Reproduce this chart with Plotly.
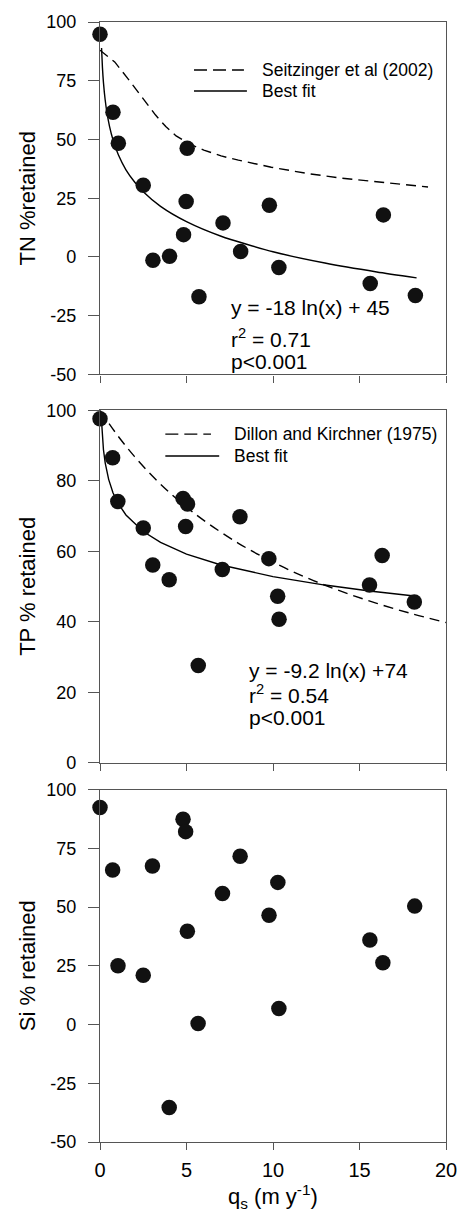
import plotly.graph_objects as go
from plotly.subplots import make_subplots

# ---------------- data ----------------
qs_tn = [0.0, 0.75, 1.06, 2.50, 3.06, 4.02, 5.04, 4.98, 4.83, 5.72, 7.11, 8.13, 9.79, 10.34, 15.62, 16.38, 18.23]
tn = [94.8, 61.6, 48.4, 30.5, -1.4, 0.3, 46.3, 23.6, 9.5, -16.9, 14.5, 2.3, 22.0, -4.5, -11.3, 17.9, -16.4]

qs_tp = [0.0, 0.73, 1.03, 2.50, 3.05, 4.00, 4.80, 5.06, 4.95, 5.68, 7.07, 8.09, 9.76, 10.27, 10.35, 15.58, 16.31, 18.17]
tp = [97.6, 86.5, 74.1, 66.6, 56.1, 51.9, 75.0, 73.4, 67.0, 27.6, 54.8, 69.8, 57.9, 47.2, 40.7, 50.4, 58.8, 45.6]

qs_si = [0.0, 4.80, 4.95, 0.73, 3.03, 8.10, 7.08, 10.28, 9.77, 18.19, 5.05, 1.04, 2.50, 15.60, 16.35, 10.34, 5.67, 4.00]
si = [92.4, 87.4, 82.1, 65.8, 67.5, 71.6, 55.8, 60.5, 46.5, 50.4, 39.7, 25.0, 21.0, 36.0, 26.3, 6.8, 0.4, -35.3]

# curves
seitz_x = [0, 0.85, 1.6, 2.55, 3.2, 3.8, 4.4, 5.2, 6.0, 7.0, 8.0, 9.9, 12, 14, 16, 18.96]
seitz_y = [88.0, 83.0, 76.0, 66.8, 60.5, 55.5, 51.5, 48.0, 45.5, 43.0, 41.2, 38.2, 35.5, 33.5, 31.9, 29.8]

tnfit_x = [0.09, 0.14, 0.2, 0.3, 0.4, 0.55, 0.75, 1.06, 1.5, 2.0, 2.5, 3.5, 5, 7, 10, 13, 16, 18.3]
tnfit_y = [88.9, 80.8, 74.2, 66.8, 61.5, 55.6, 49.9, 43.5, 37.1, 31.9, 27.7, 21.5, 15.0, 8.8, 2.2, -2.6, -6.4, -8.9]

dk_x = [0, 1, 2, 3, 4, 5, 6, 8, 10, 12, 14, 16, 18, 20]
dk_y = [100.0, 92.96, 86.84, 81.48, 76.74, 72.53, 68.75, 62.26, 56.90, 52.38, 48.53, 45.21, 42.31, 39.76]

tpfit_x = [0.074, 0.1, 0.15, 0.2, 0.3, 0.5, 0.75, 1.03, 1.5, 2.5, 3.5, 5, 7, 10, 13, 15.58, 18.17]
tpfit_y = [98.0, 95.2, 91.5, 88.8, 85.1, 80.4, 76.6, 73.7, 70.3, 65.6, 62.5, 59.2, 56.1, 52.8, 50.4, 48.7, 47.3]

x_ticks = [0, 5, 10, 15, 20]
tn_ticks = [-50, -25, 0, 25, 50, 75, 100]
tp_ticks = [0, 20, 40, 60, 80, 100]
si_ticks = [-50, -25, 0, 25, 50, 75, 100]

legend_top = ["Seitzinger et al (2002)", "Best fit"]
legend_mid = ["Dillon and Kirchner (1975)", "Best fit"]

FONT = "Liberation Sans, Arial, sans-serif"
AXC = "#555555"
MK = dict(size=15.5, color="#111111")
DASH = "10px,6px"

fig = make_subplots(rows=3, cols=1, shared_xaxes=False, vertical_spacing=0.03)

# ---- TN panel ----
fig.add_trace(go.Scatter(x=seitz_x, y=seitz_y, mode="lines", name=legend_top[0],
                         line=dict(color="black", width=1.4, dash=DASH),
                         showlegend=False), row=1, col=1)
fig.add_trace(go.Scatter(x=tnfit_x, y=tnfit_y, mode="lines", name=legend_top[1],
                         line=dict(color="black", width=1.4), showlegend=False,
                         line_shape="spline", line_smoothing=0.6), row=1, col=1)
fig.add_trace(go.Scatter(x=qs_tn, y=tn, mode="markers", marker=MK, showlegend=False,
                         cliponaxis=False), row=1, col=1)

# ---- TP panel ----
fig.add_trace(go.Scatter(x=dk_x, y=dk_y, mode="lines", name=legend_mid[0],
                         line=dict(color="black", width=1.4, dash=DASH),
                         showlegend=False, line_shape="spline"), row=2, col=1)
fig.add_trace(go.Scatter(x=tpfit_x, y=tpfit_y, mode="lines", name=legend_mid[1],
                         line=dict(color="black", width=1.4), showlegend=False),
              row=2, col=1)
fig.add_trace(go.Scatter(x=qs_tp, y=tp, mode="markers", marker=MK, showlegend=False,
                         cliponaxis=False), row=2, col=1)

# ---- Si panel ----
fig.add_trace(go.Scatter(x=qs_si, y=si, mode="markers", marker=MK, showlegend=False,
                         cliponaxis=False), row=3, col=1)

# domains (pixel geometry of the reference)
H = 1213.0
top_px, bot_px = 16.7, 1141.7
span = bot_px - top_px
def dom(a, b):
    return [(bot_px - b) / span, (bot_px - a) / span]

doms = [dom(16.7, 370.7), dom(406.7, 760.7), dom(787.7, 1141.7)]
yt = [tn_ticks, tp_ticks, si_ticks]
yr = [[-50, 100], [0, 100], [-50, 100]]

for i in range(3):
    ax = "" if i == 0 else str(i + 1)
    fig.layout["xaxis" + ax].update(
        range=[0, 20], tickvals=x_ticks, ticktext=[str(v) for v in x_ticks],
        showticklabels=(i == 2),
        ticks="outside", ticklen=7, tickwidth=1.3, tickcolor=AXC,
        showline=True, linecolor=AXC, linewidth=1.3, mirror=True,
        showgrid=False, zeroline=False, ticklabelstandoff=3,
        tickfont=dict(size=20, color="black", family=FONT))
    fig.layout["yaxis" + ax].update(
        domain=doms[i], range=yr[i], tickvals=yt[i], ticktext=[str(v) for v in yt[i]],
        ticks="outside", ticklen=11, tickwidth=1.3, tickcolor=AXC,
        showline=True, linecolor=AXC, linewidth=1.3, mirror=True,
        showgrid=False, zeroline=False, ticklabelstandoff=8,
        tickfont=dict(size=18, color="black", family=FONT))

titles = ["TN %retained", "TP % retained", "Si % retained"]
ann = []
for i, t in enumerate(titles):
    ax = "" if i == 0 else str(i + 1)
    ann.append(dict(text=t, xref="paper", x=-0.21, xanchor="center",
                    yref="y" + ax + " domain", y=0.5, yanchor="middle",
                    textangle=-90, showarrow=False,
                    font=dict(size=22, color="black", family=FONT)))

ann.append(dict(text="q<sub>s</sub> (m y<sup>-1</sup>)", xref="x3", x=10, xanchor="center",
                yref="paper", y=-0.049, yanchor="middle", showarrow=False,
                font=dict(size=22, color="black", family=FONT)))

EQF = dict(size=21, color="black", family=FONT)
ann += [
    dict(text="y = -18 ln(x) + 45", xref="x", x=7.45, xanchor="left", yref="y", y=-21.3,
         yanchor="middle", showarrow=False, font=EQF),
    dict(text="r<sup>2</sup> = 0.71", xref="x", x=7.45, xanchor="left", yref="y", y=-34.5,
         yanchor="middle", showarrow=False, font=EQF),
    dict(text="p<0.001", xref="x", x=7.45, xanchor="left", yref="y", y=-44.5,
         yanchor="middle", showarrow=False, font=EQF),
    dict(text="y = -9.2 ln(x) +74", xref="x2", x=8.5, xanchor="left", yref="y2", y=26.2,
         yanchor="middle", showarrow=False, font=EQF),
    dict(text="r<sup>2</sup> = 0.54", xref="x2", x=8.5, xanchor="left", yref="y2", y=19.4,
         yanchor="middle", showarrow=False, font=EQF),
    dict(text="p<0.001", xref="x2", x=8.5, xanchor="left", yref="y2", y=12.9,
         yanchor="middle", showarrow=False, font=EQF),
]

# hand-placed legends (line samples + labels)
LEGF = dict(size=17.5, color="black", family=FONT)
shapes = []
leg_specs = [
    ("", legend_top, 0.2717, [0.416, 0.4246], 0.4614, [0.8636, 0.8043]),
    ("2", legend_mid, 0.1888, [0.3207, 0.3445], 0.3801, [0.9322, 0.8701]),
]
for ax, names, x0, x1s, xt, ys in leg_specs:
    for j, nm in enumerate(names):
        shapes.append(dict(type="line", xref="x" + ax + " domain", yref="y" + ax + " domain",
                           x0=x0, x1=x1s[j], y0=ys[j], y1=ys[j],
                           line=dict(color="black", width=1.4,
                                     dash=("13px,6px" if j == 0 else "solid"))))
        ann.append(dict(text=nm, xref="x" + ax + " domain", yref="y" + ax + " domain",
                        x=xt, y=ys[j], xanchor="left", yanchor="middle",
                        showarrow=False, font=LEGF))

fig.update_layout(
    width=469, height=1213,
    margin=dict(l=100, r=16, t=16.7, b=H - bot_px),
    paper_bgcolor="white", plot_bgcolor="white",
    font=dict(family=FONT, color="black"),
    annotations=ann, shapes=shapes, showlegend=False,
)

fig.write_html("out.html", config={"displayModeBar": False},
               post_script="document.body.style.margin='0px';")
